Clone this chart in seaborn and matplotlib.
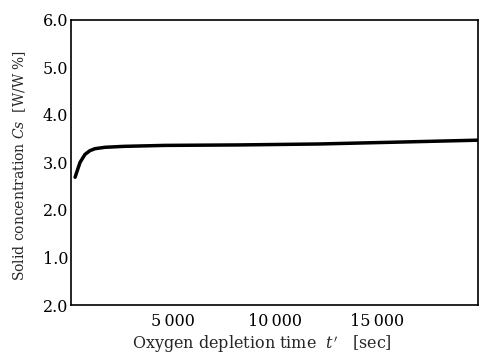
import matplotlib
matplotlib.use("Agg")
import matplotlib.pyplot as plt
import seaborn as sns
import pandas as pd

# Data
time_sec = [200, 440, 685, 930, 1170, 1660, 2600, 4600, 8270, 12180, 16100, 19960]
solid_conc = [2.69, 3.00, 3.17, 3.25, 3.29, 3.32, 3.34, 3.36, 3.37, 3.39, 3.43, 3.47]
x_ticks = [5000, 10000, 15000]
x_tick_labels = ["5\u2009000", "10\u2009000", "15\u2009000"]
y_ticks = [6.0, 5.0, 4.0, 3.0, 2.0, 1.0, 0.0]
y_tick_labels = ["6.0", "5.0", "4.0", "3.0", "2.0", "1.0", "2.0"]

df = pd.DataFrame({"t": time_sec, "cs": solid_conc})

sns.set_style("white")
plt.rcParams["font.family"] = ["DejaVu Serif"]
plt.rcParams["mathtext.fontset"] = "dejavuserif"

fig = plt.figure(figsize=(4.79, 3.57), dpi=100)
ax = fig.add_axes([71 / 479, 1 - 305 / 357, (478 - 71) / 479, (305 - 20) / 357])

sns.lineplot(data=df, x="t", y="cs", ax=ax, color="black", linewidth=2.5)

ax.set_xlim(0, 19950)
ax.set_ylim(0, 6.0)
ax.set_xticks(x_ticks)
ax.set_xticklabels(x_tick_labels)
ax.set_yticks(y_ticks)
ax.set_yticklabels(y_tick_labels)

for s in ax.spines.values():
    s.set_color("black")
    s.set_linewidth(1.2)

ax.tick_params(axis="both", direction="in", length=3.5, width=1.0, colors="black",
               labelsize=11.5)
ax.tick_params(axis="x", pad=6)
ax.tick_params(axis="y", pad=2)

ax.set_xlabel(r"Oxygen depletion time  $t'$   [sec]", fontsize=11.5)
ax.set_ylabel(r"Solid concentration $Cs$  [W/W %]", fontsize=10)
ax.xaxis.set_label_coords(0.469, -0.10)
ax.yaxis.set_label_coords(-0.105, 0.49)

fig.savefig("out.png", dpi=100)
